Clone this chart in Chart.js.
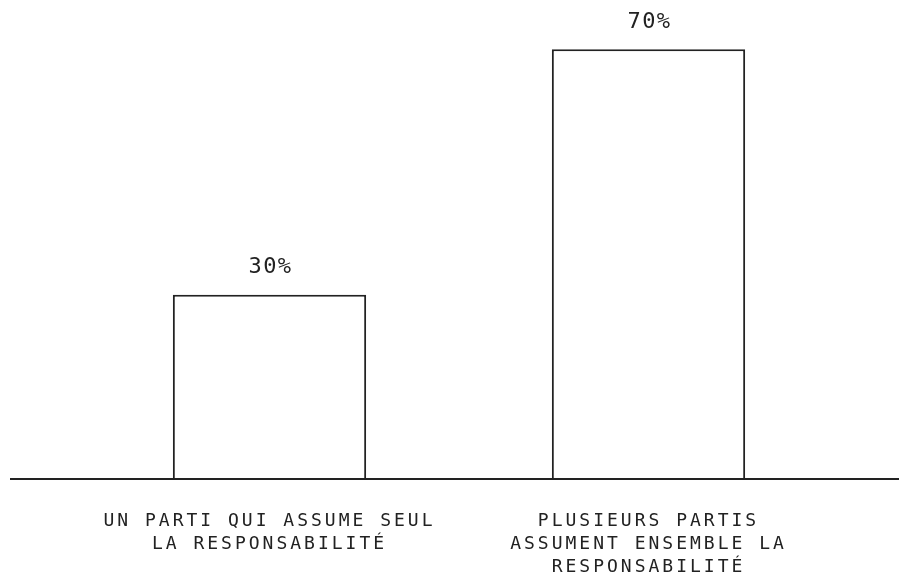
<!DOCTYPE html>
<html>
<head>
<meta charset="utf-8">
<script src="https://cdn.jsdelivr.net/npm/chart.js@4"></script>
<style>
  html, body { margin: 0; padding: 0; background: #fff; }
  #wrap { width: 899px; height: 575px; }
</style>
</head>
<body>
<div id="wrap"><canvas id="chartParts"></canvas></div>
<script>
const categories = [
  ['UN PARTI QUI ASSUME SEUL', 'LA RESPONSABILITÉ'],
  ['PLUSIEURS PARTIS', 'ASSUMENT ENSEMBLE LA', 'RESPONSABILITÉ']
];
const values = [30, 70];
const valueLabels = ['30%', '70%'];

const ink = '#222';
const mono = "'DejaVu Sans Mono', monospace";

// ligne de base sur toute la largeur + étiquettes au-dessus des barres
const decor = {
  id: 'decor',
  beforeDraw(chart){
    chart.ctx.letterSpacing = '3px';
  },
  afterDatasetsDraw(chart){
    const ctx = chart.ctx;
    const y0 = chart.scales.y.getPixelForValue(0);
    ctx.save();
    ctx.strokeStyle = ink;
    ctx.lineWidth = 2;
    ctx.beginPath();
    ctx.moveTo(10, y0);
    ctx.lineTo(chart.width, y0);
    ctx.stroke();

    ctx.letterSpacing = '1.5px';
    ctx.font = '22px ' + mono;
    ctx.fillStyle = ink;
    ctx.textAlign = 'center';
    ctx.textBaseline = 'middle';
    chart.getDatasetMeta(0).data.forEach((bar, i) => {
      ctx.fillText(valueLabels[i], bar.x + 1, bar.y - 27);
    });
    ctx.restore();
  }
};

new Chart(document.getElementById('chartParts'), {
  type: 'bar',
  data: {
    labels: categories,
    datasets: [{
      data: values,
      backgroundColor: '#fff',
      borderColor: ink,
      borderWidth: 2,
      barPercentage: 0.51,
      categoryPercentage: 1
    }]
  },
  options: {
    responsive: true,
    maintainAspectRatio: false,
    animation: false,
    layout: { padding: { left: 80, right: 61, top: 0, bottom: 0 } },
    plugins: { legend: { display: false }, tooltip: { enabled: false } },
    scales: {
      x: {
        grid: { display: false },
        border: { display: false },
        afterFit: s => { s.height = 96; },
        ticks: {
          color: ink,
          padding: 23,
          maxRotation: 0,
          autoSkip: false,
          font: { family: mono, size: 18, lineHeight: '23px' }
        }
      },
      y: {
        display: false,
        min: 0,
        max: 78
      }
    }
  },
  plugins: [decor]
});
</script>
</body>
</html>
